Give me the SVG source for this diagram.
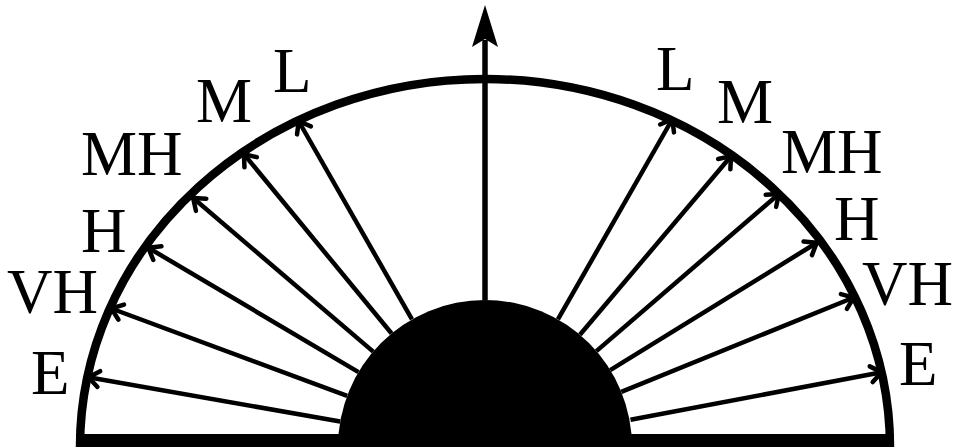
<svg xmlns="http://www.w3.org/2000/svg" width="955" height="447" viewBox="0 0 955 447">
  <style>
    .lbl { font-family: "Liberation Serif", "Times New Roman", serif; font-size: 63px; fill: #000; }
    .ray { stroke: #000; stroke-width: 4.5; fill: none; marker-end: url(#open); }
  </style>
  <defs>
    <marker id="open" markerUnits="userSpaceOnUse" markerWidth="30" markerHeight="30" viewBox="-15 -15 30 30" refX="0" refY="0" orient="auto">
      <path d="M -12 -8 L -1.5 0 L -12 8" fill="none" stroke="#000" stroke-width="4.5" stroke-linecap="round" stroke-linejoin="round"/>
    </marker>
  </defs>
  <rect width="955" height="447" fill="#fff"/>

  <g id="frame">
    <path d="M 80 447 A 405 368 0 0 1 890 447" fill="none" stroke="#000" stroke-width="8.5"/>
    <rect x="76" y="434" width="818" height="13" fill="#000"/>
  </g>

  <g id="core">
    <path d="M 338 447 A 147 147 0 0 1 632 447 Z" fill="#000"/>
  </g>

  <g id="axis">
    <line x1="485" y1="300" x2="485" y2="40" stroke="#000" stroke-width="5.5"/>
    <path d="M 485 5 L 498 47 L 485 39 L 472 47 Z" fill="#000"/>
  </g>

  <g id="connectors">
    <line class="ray" x1="340.2" y1="421.5" x2="87" y2="377"/>
    <line class="ray" x1="347.2" y1="395.9" x2="110" y2="308"/>
    <line class="ray" x1="358.5" y1="372.1" x2="147" y2="247"/>
    <line class="ray" x1="373.2" y1="351.6" x2="192" y2="197"/>
    <line class="ray" x1="391.6" y1="333.5" x2="243" y2="153"/>
    <line class="ray" x1="412.0" y1="319.4" x2="298" y2="120"/>
    <line class="ray" x1="557.9" y1="319.4" x2="673" y2="118"/>
    <line class="ray" x1="579.9" y1="334.8" x2="732" y2="155"/>
    <line class="ray" x1="596.4" y1="351.1" x2="780" y2="193"/>
    <line class="ray" x1="610.2" y1="370.1" x2="818" y2="242"/>
    <line class="ray" x1="621.3" y1="391.8" x2="855" y2="297"/>
    <line class="ray" x1="630.5" y1="419.8" x2="883" y2="372"/>
  </g>

  <g id="labels-left">
    <g id="left-L"><text class="lbl" x="273" y="92">L</text></g>
    <g id="left-M"><text class="lbl" x="196" y="122">M</text></g>
    <g id="left-MH"><text class="lbl" x="81" y="175">MH</text></g>
    <g id="left-H"><text class="lbl" x="81" y="252">H</text></g>
    <g id="left-VH"><text class="lbl" x="7" y="313">VH</text></g>
    <g id="left-E"><text class="lbl" x="31" y="394">E</text></g>
  </g>
  <g id="labels-right">
    <g id="right-L"><text class="lbl" x="656" y="90">L</text></g>
    <g id="right-M"><text class="lbl" x="717" y="123">M</text></g>
    <g id="right-MH"><text class="lbl" x="781" y="173">MH</text></g>
    <g id="right-H"><text class="lbl" x="834" y="240">H</text></g>
    <g id="right-VH"><text class="lbl" x="862" y="305">VH</text></g>
    <g id="right-E"><text class="lbl" x="899" y="385">E</text></g>
  </g>
</svg>
